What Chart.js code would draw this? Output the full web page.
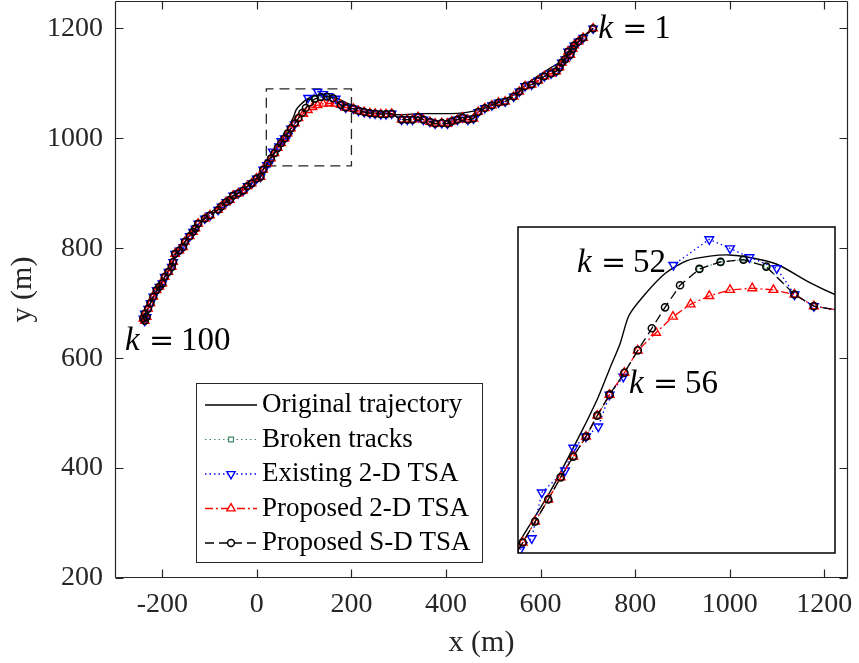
<!DOCTYPE html>
<html>
<head>
<meta charset="utf-8">
<script src="https://cdn.jsdelivr.net/npm/chart.js@4.4.1/dist/chart.umd.min.js"></script>
<style>
  html, body { margin: 0; padding: 0; background: #fff; }
  #wrap { position: relative; width: 859px; height: 663px; }
  #main { position: absolute; left: 0; top: 0; }
  #inset { position: absolute; left: 517px; top: 226px; background: #fff; }
</style>
</head>
<body>
<div id="wrap">
  <canvas id="main" width="859" height="663"></canvas>
  <canvas id="inset" width="319" height="328"></canvas>
</div>
<script>
// axes
const xTicks = [-200, 0, 200, 400, 600, 800, 1000, 1200];
const yTicks = [200, 400, 600, 800, 1000, 1200];
const xRange = [-300, 1250];
const yRange = [200, 1250];
// zoomed region (dashed box + inset)
const zoomX = [20, 200];
const zoomY = [950, 1090];

const seriesNames = ['Original trajectory', 'Broken tracks', 'Existing 2-D TSA', 'Proposed 2-D TSA', 'Proposed S-D TSA'];

// original trajectory
const origX = [711, 690, 668, 655, 641, 613, 580, 548, 515, 480, 465, 430, 401, 345, 302, 265, 230, 200, 186, 167,
  151, 140, 129, 116, 103.5, 92, 83, 78, 72, 65.6, 56, 38, 21, 5, -20, -50, -80, -110, -135, -155,
  -170, -180, -195, -212, -228, -240];
const origY = [1200, 1186, 1166, 1150, 1139, 1124, 1105, 1082, 1068, 1057, 1051, 1046, 1045, 1045, 1043, 1046, 1052, 1061, 1066, 1074,
  1077, 1078, 1077.5, 1075.6, 1070, 1061, 1052, 1040, 1029, 1017, 1002, 976, 955, 933, 913, 895, 877, 856, 832, 808,
  792, 770, 748, 722, 695, 668];

// track points k = 1..100 (proposed S-D TSA)
const trackX = [711, 690, 680, 671, 668, 658, 663, 652, 645, 640, 633, 622, 608, 595, 581, 567, 555, 543, 525, 511,
  497, 482, 468, 458, 446, 435, 424, 412, 403, 391, 377, 366, 352, 341, 329, 318, 306, 285, 273, 262,
  250, 239, 227, 215, 204, 188, 177, 161, 148, 135, 123, 112, 103.5, 96, 88, 80.4, 72, 65, 58.6, 51.4,
  44.2, 37.2, 29.7, 22.7, 13.4, 7.8, -0.6, -11, -19.7, -29, -39.5, -50, -57, -65, -75, -82, -99, -110, -124, -130,
  -135, -142, -152, -156, -164, -173, -177, -180, -187, -195, -200, -206, -212, -219, -225, -230, -237, -233, -240, -237];
const trackY = [1200, 1183, 1176, 1169, 1163, 1158, 1152, 1144, 1138, 1129, 1122, 1118, 1113, 1105, 1098, 1095, 1085, 1076, 1067, 1065,
  1060, 1055, 1048, 1036, 1034, 1038, 1034, 1031, 1027, 1028, 1027, 1030, 1034, 1039, 1034, 1034, 1034, 1045, 1044, 1044,
  1045, 1046, 1048, 1050, 1054, 1056, 1061, 1073, 1076, 1075, 1072, 1065, 1055.5, 1046.5, 1037, 1027.4, 1018, 1009, 1000, 991.4,
  982.5, 973, 963.5, 954.5, 943, 930, 927, 918, 913, 905, 900, 896, 888, 884, 876, 870, 860, 854, 845, 836,
  830, 822, 812, 802, 796, 790, 775, 766, 757, 748, 736, 730, 724, 712, 700, 690, 681, 675, 672, 668];

// missing measurements in the broken tracks
const missingK = [52, 53, 54, 55, 56];

// proposed 2-D TSA where it differs from the track
const p2dK = [48, 49, 50, 51, 52, 53, 54];
const p2dX = [165, 153, 140.4, 128.6, 118, 108, 98.4];
const p2dY = [1063, 1063.7, 1063, 1060.4, 1056.8, 1051.5, 1044.6];

// existing 2-D TSA where it differs from the track
const existK = [48, 49, 50, 51, 52, 53, 54, 55, 56, 58, 60, 61, 62, 63, 64];
const existX = [166.9, 151.4, 140.4, 128.6, 108.2, null, null, null, 79.8, 65.6, 51.4, 46.7, 33.5, 27.8, 21.1];
const existY = [1072.3, 1077, 1080.8, 1084.7, 1073.7, null, null, null, 1025.7, 1004.3, 995.2, 985.4, 976, 956.3, 951.3];

// k annotations
const mainNoteK = ['1', '100'];
const mainNoteX = [722, -279];
const mainNoteY = [1182, 614];
const insetNoteK = ['52', '56'];
const insetNoteX = [53.5, 83];
const insetNoteY = [1070.7, 1018.7];

const axisColor = '#262626';
const serif = 'Liberation Serif';

function pts(xs, ys) {
  return xs.map((x, i) => ({ x: x, y: ys[i] }));
}

function editTrack(ks, xs, ys) {
  const p = pts(trackX, trackY);
  ks.forEach((k, i) => {
    p[k - 1] = { x: xs[i], y: ys[i] };
  });
  return p;
}

const seriesPts = [
  pts(origX, origY),
  editTrack(missingK, missingK.map(() => null), missingK.map(() => null)),
  editTrack(existK, existX, existY),
  editTrack(p2dK, p2dX, p2dY),
  pts(trackX, trackY)
];

const looks = [
  { color: '#000000', dash: [], width: 1.4, shape: null, r: 0, rot: 0, mw: 0 },
  { color: '#3d8a63', dash: [1.5, 3], width: 1.2, shape: 'rect', r: 3.5, rot: 0, mw: 1.2 },
  { color: '#0000ff', dash: [1.5, 3], width: 1.3, shape: 'triangle', r: 4.8, rot: 180, mw: 1.4 },
  { color: '#ff0000', dash: [8, 3, 2, 3], width: 1.3, shape: 'triangle', r: 4.8, rot: 0, mw: 1.4 },
  { color: '#000000', dash: [9, 5], width: 1.3, shape: 'circle', r: 3.4, rot: 0, mw: 1.5 }
];

function buildDatasets(grow) {
  return seriesPts.map((data, i) => {
    const lk = looks[i];
    return {
      label: seriesNames[i],
      data: data,
      showLine: true,
      fill: false,
      spanGaps: false,
      borderColor: lk.color,
      borderWidth: lk.width,
      borderDash: lk.dash,
      tension: i === 0 ? 0.25 : 0,
      pointStyle: lk.shape || 'circle',
      pointRadius: lk.shape ? lk.r * grow : 0,
      pointRotation: lk.rot,
      pointBorderColor: lk.color,
      pointBackgroundColor: 'rgba(0,0,0,0)',
      pointBorderWidth: lk.mw,
      order: 5 - i
    };
  });
}

function drawK(ctx, x, y, num) {
  ctx.fillStyle = '#000';
  ctx.textAlign = 'left';
  ctx.textBaseline = 'alphabetic';
  ctx.font = 'italic 33px "' + serif + '"';
  ctx.fillText('k', x, y);
  ctx.font = '30px "DejaVu Serif"';
  ctx.fillText('=', x + 24, y);
  ctx.font = '33px "' + serif + '"';
  ctx.fillText(num, x + 56, y);
}

function line(ctx, x1, y1, x2, y2) {
  ctx.moveTo(x1, y1);
  ctx.lineTo(x2, y2);
}

// ---------------- main axes ----------------
const mainDecor = {
  id: 'mainDecor',
  afterDraw(chart) {
    const ctx = chart.ctx;
    const a = chart.chartArea;
    const sx = chart.scales.x;
    const sy = chart.scales.y;
    const L = Math.round(a.left) + 0.5, R = Math.round(a.right) - 0.5;
    const T = Math.round(a.top) + 0.5, B = Math.round(a.bottom) - 0.5;
    ctx.save();

    // box + inward ticks
    ctx.setLineDash([]);
    ctx.strokeStyle = axisColor;
    ctx.lineWidth = 1.2;
    ctx.beginPath();
    line(ctx, L, T, R, T);
    line(ctx, R, T, R, B);
    line(ctx, R, B, L, B);
    line(ctx, L, B, L, T);
    xTicks.forEach(v => {
      const p = Math.round(sx.getPixelForValue(v)) + 0.5;
      line(ctx, p, B, p, B - 8);
      line(ctx, p, T, p, T + 8);
    });
    yTicks.forEach(v => {
      const p = Math.round(sy.getPixelForValue(v)) + 0.5;
      line(ctx, L, p, L + 8, p);
      line(ctx, R, p, R - 8, p);
    });
    ctx.stroke();

    // axis titles
    ctx.fillStyle = axisColor;
    ctx.font = '30px "' + serif + '"';
    ctx.textAlign = 'center';
    ctx.textBaseline = 'alphabetic';
    ctx.fillText('x (m)', (a.left + a.right) / 2, 651);
    ctx.save();
    ctx.translate(31, (a.top + a.bottom) / 2);
    ctx.rotate(-Math.PI / 2);
    ctx.fillText('y (m)', 0, 0);
    ctx.restore();

    // legend
    const lb = { left: 196, top: 383, right: 482, bottom: 562 };
    ctx.fillStyle = '#fff';
    ctx.fillRect(lb.left, lb.top, lb.right - lb.left, lb.bottom - lb.top);
    ctx.strokeStyle = axisColor;
    ctx.lineWidth = 1;
    ctx.strokeRect(lb.left + 0.5, lb.top + 0.5, lb.right - lb.left, lb.bottom - lb.top);
    seriesNames.forEach((name, i) => {
      const lk = looks[i];
      const cy = 405 + i * 34.5;
      ctx.strokeStyle = lk.color;
      ctx.lineWidth = lk.width;
      ctx.setLineDash(lk.dash);
      ctx.beginPath();
      ctx.moveTo(205, cy);
      ctx.lineTo(257, cy);
      ctx.stroke();
      ctx.setLineDash([]);
      if (lk.shape) {
        ctx.lineWidth = lk.mw;
        ctx.fillStyle = '#fff';
        Chart.helpers.drawPoint(ctx, { pointStyle: lk.shape, radius: lk.r, rotation: lk.rot, borderWidth: lk.mw }, 231, cy);
      }
      ctx.fillStyle = '#000';
      ctx.font = '27px "' + serif + '"';
      ctx.textAlign = 'left';
      ctx.textBaseline = 'middle';
      ctx.fillText(name, 262, cy);
    });

    // k notes
    mainNoteK.forEach((k, i) => {
      drawK(ctx, sx.getPixelForValue(mainNoteX[i]), sy.getPixelForValue(mainNoteY[i]), k);
    });
    ctx.restore();
  }
};

const mainSets = buildDatasets(1);
mainSets.push({
  label: 'zoom',
  data: [
    { x: zoomX[0], y: zoomY[0] }, { x: zoomX[1], y: zoomY[0] },
    { x: zoomX[1], y: zoomY[1] }, { x: zoomX[0], y: zoomY[1] },
    { x: zoomX[0], y: zoomY[0] }
  ],
  showLine: true,
  borderColor: axisColor,
  borderWidth: 1.3,
  borderDash: [10, 6],
  pointRadius: 0,
  tension: 0,
  order: 10
});

new Chart(document.getElementById('main'), {
  type: 'scatter',
  data: { datasets: mainSets },
  options: {
    responsive: false,
    animation: false,
    events: [],
    layout: { autoPadding: false, padding: { left: 0, right: 11, top: 1, bottom: 0 } },
    plugins: { legend: { display: false }, tooltip: { enabled: false } },
    scales: {
      x: {
        type: 'linear', min: xRange[0], max: xRange[1],
        grid: { display: false, drawTicks: false }, border: { display: false },
        ticks: { font: { family: serif, size: 28 }, color: axisColor, padding: 10, maxRotation: 0, autoSkip: false, callback: v => String(v) },
        afterBuildTicks: s => { s.ticks = xTicks.map(v => ({ value: v })); },
        afterFit: s => { s.height = 85; s.paddingLeft = 0; s.paddingRight = 0; }
      },
      y: {
        type: 'linear', min: yRange[0], max: yRange[1],
        grid: { display: false, drawTicks: false }, border: { display: false },
        ticks: { font: { family: serif, size: 28 }, color: axisColor, padding: 12, autoSkip: false, callback: v => String(v) },
        afterBuildTicks: s => { s.ticks = yTicks.map(v => ({ value: v })); },
        afterFit: s => { s.width = 115; s.paddingTop = 0; s.paddingBottom = 0; }
      }
    }
  },
  plugins: [mainDecor]
});

// ---------------- inset ----------------
const insetDecor = {
  id: 'insetDecor',
  afterDraw(chart) {
    const ctx = chart.ctx;
    const a = chart.chartArea;
    ctx.save();
    ctx.strokeStyle = '#000';
    ctx.lineWidth = 1.5;
    ctx.setLineDash([]);
    ctx.strokeRect(a.left, a.top, a.right - a.left, a.bottom - a.top);
    insetNoteK.forEach((k, i) => {
      drawK(ctx, chart.scales.x.getPixelForValue(insetNoteX[i]), chart.scales.y.getPixelForValue(insetNoteY[i]), k);
    });
    ctx.restore();
  }
};

new Chart(document.getElementById('inset'), {
  type: 'scatter',
  data: { datasets: buildDatasets(1.05) },
  options: {
    responsive: false,
    animation: false,
    events: [],
    layout: { autoPadding: false, padding: 1 },
    plugins: { legend: { display: false }, tooltip: { enabled: false } },
    scales: {
      x: { type: 'linear', min: zoomX[0], max: zoomX[1], display: false },
      y: { type: 'linear', min: zoomY[0], max: zoomY[1], display: false }
    }
  },
  plugins: [insetDecor]
});
</script>
</body>
</html>
